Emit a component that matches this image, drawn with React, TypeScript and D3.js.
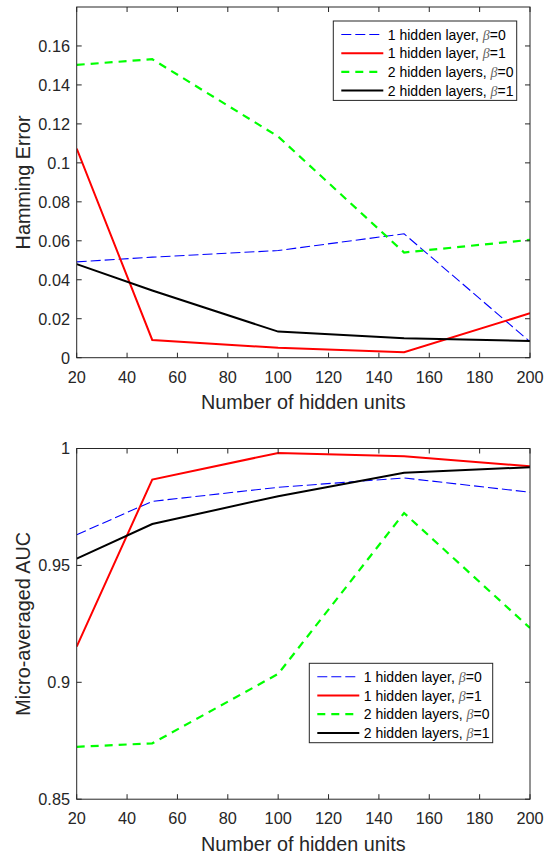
import React from "react";
import * as d3 from "d3";

const hiddenUnits = [20, 50, 100, 150, 200];
const xTicks = [20, 40, 60, 80, 100, 120, 140, 160, 180, 200];

// Top panel: Hamming Error
const hamOne0 = [0.0492, 0.0516, 0.055, 0.0636, 0.0082];
const hamOne1 = [0.1073, 0.0091, 0.0051, 0.0028, 0.0228];
const hamTwo0 = [0.1503, 0.1532, 0.1135, 0.054, 0.0605];
const hamTwo1 = [0.048, 0.0345, 0.0134, 0.01, 0.0086];
const hamTicks = [0, 0.02, 0.04, 0.06, 0.08, 0.1, 0.12, 0.14, 0.16];
const hamTickLabels = ["0", "0.02", "0.04", "0.06", "0.08", "0.1", "0.12", "0.14", "0.16"];

// Bottom panel: Micro-averaged AUC
const aucOne0 = [0.9631, 0.9774, 0.9834, 0.9874, 0.9813];
const aucOne1 = [0.9153, 0.9867, 0.9981, 0.9967, 0.9924];
const aucTwo0 = [0.8724, 0.8739, 0.9036, 0.9724, 0.9232];
const aucTwo1 = [0.9529, 0.9677, 0.9796, 0.9896, 0.992];
const aucTicks = [0.85, 0.9, 0.95, 1];
const aucTickLabels = ["0.85", "0.9", "0.95", "1"];

const seriesNames = ["1 hidden layer, ", "1 hidden layer, ", "2 hidden layers, ", "2 hidden layers, "];
const seriesBeta = ["0", "1", "0", "1"];

const FONT = "'Liberation Sans', Arial, Helvetica, sans-serif";
const AX = "#262626";

const styles = [
  { color: "#0000ff", width: 1.1, dash: "10,4" },
  { color: "#ff0000", width: 2, dash: undefined },
  { color: "#00ff00", width: 2.2, dash: "8,6" },
  { color: "#000000", width: 2, dash: undefined },
];

type PanelProps = {
  top: number;
  domain: [number, number];
  series: number[][];
  yTicks: number[];
  yTickLabels: string[];
  yLabel: string;
  legend: { x: number; y: number };
};

const LEFT = 76.7;
const RIGHT = 530;
const H = 350.7;

function Panel({ top, domain, series, yTicks, yTickLabels, yLabel, legend }: PanelProps) {
  const x = d3.scaleLinear().domain([20, 200]).range([LEFT, RIGHT]);
  const y = d3.scaleLinear().domain(domain).range([top + H, top]);
  const line = d3
    .line<number>()
    .x((_, i) => x(hiddenUnits[i]))
    .y((d) => y(d));
  const bottom = top + H;
  const tl = 5;
  const lw = 183.4;
  const lh = 79.4;
  return (
    <g>
      <defs>
        <clipPath id={`clip${top}`}>
          <rect x={LEFT} y={top} width={RIGHT - LEFT} height={H} />
        </clipPath>
      </defs>
      <rect x={LEFT} y={top} width={RIGHT - LEFT} height={H} fill="#fff" />
      <g clipPath={`url(#clip${top})`}>
        {series.map((s, i) => (
          <path
            key={i}
            d={line(s) || ""}
            fill="none"
            stroke={styles[i].color}
            strokeWidth={styles[i].width}
            strokeDasharray={styles[i].dash}
          />
        ))}
      </g>
      <rect x={LEFT} y={top} width={RIGHT - LEFT} height={H} fill="none" stroke={AX} strokeWidth={1} />
      {xTicks.map((t) => (
        <g key={t}>
          <line x1={x(t)} x2={x(t)} y1={bottom} y2={bottom - tl} stroke={AX} />
          <line x1={x(t)} x2={x(t)} y1={top} y2={top + tl} stroke={AX} />
          <text x={x(t)} y={bottom + 25} textAnchor="middle" fontFamily={FONT} fontSize={16.3} fill={AX}>
            {t}
          </text>
        </g>
      ))}
      {yTicks.map((t, i) => (
        <g key={t}>
          <line x1={LEFT} x2={LEFT + tl} y1={y(t)} y2={y(t)} stroke={AX} />
          <line x1={RIGHT} x2={RIGHT - tl} y1={y(t)} y2={y(t)} stroke={AX} />
          <text x={70} y={y(t)} dy="0.36em" textAnchor="end" fontFamily={FONT} fontSize={16.3} fill={AX}>
            {yTickLabels[i]}
          </text>
        </g>
      ))}
      <text
        x={(LEFT + RIGHT) / 2}
        y={bottom + 51.5}
        textAnchor="middle"
        fontFamily={FONT}
        fontSize={19.8}
        fill={AX}
      >
        Number of hidden units
      </text>
      <text
        transform={`translate(29.5,${top + H / 2}) rotate(-90)`}
        textAnchor="middle"
        fontFamily={FONT}
        fontSize={19.8}
        fill={AX}
      >
        {yLabel}
      </text>
      <g transform={`translate(${legend.x},${legend.y})`}>
        <rect x={0} y={0} width={lw} height={lh} fill="#fff" stroke={AX} strokeWidth={1} />
        {seriesNames.map((n, i) => {
          const ry = 13.5 + i * 18.7;
          return (
            <g key={i}>
              <line
                x1={8}
                x2={50}
                y1={ry}
                y2={ry}
                stroke={styles[i].color}
                strokeWidth={styles[i].width}
                strokeDasharray={styles[i].dash}
              />
              <text x={54.5} y={ry} dy="0.36em" fontFamily={FONT} fontSize={14} fill="#000">
                {n}
                <tspan fontFamily="'Liberation Serif', 'Times New Roman', serif" fontStyle="italic" fill="#666">
                  β
                </tspan>
                {"=" + seriesBeta[i]}
              </text>
            </g>
          );
        })}
      </g>
    </g>
  );
}

export default function App() {
  return (
    <svg
      width={551}
      height={855}
      style={{ position: "absolute", left: 0, top: 0, background: "#fff" }}
    >
      <rect x={0} y={0} width={551} height={855} fill="#fff" />
      <Panel
        top={7}
        domain={[0, 0.18]}
        series={[hamOne0, hamOne1, hamTwo0, hamTwo1]}
        yTicks={hamTicks}
        yTickLabels={hamTickLabels}
        yLabel="Hamming Error"
        legend={{ x: 333.3, y: 21 }}
      />
      <Panel
        top={448.5}
        domain={[0.85, 1]}
        series={[aucOne0, aucOne1, aucTwo0, aucTwo1]}
        yTicks={aucTicks}
        yTickLabels={aucTickLabels}
        yLabel="Micro-averaged AUC"
        legend={{ x: 309.3, y: 663.3 }}
      />
    </svg>
  );
}
